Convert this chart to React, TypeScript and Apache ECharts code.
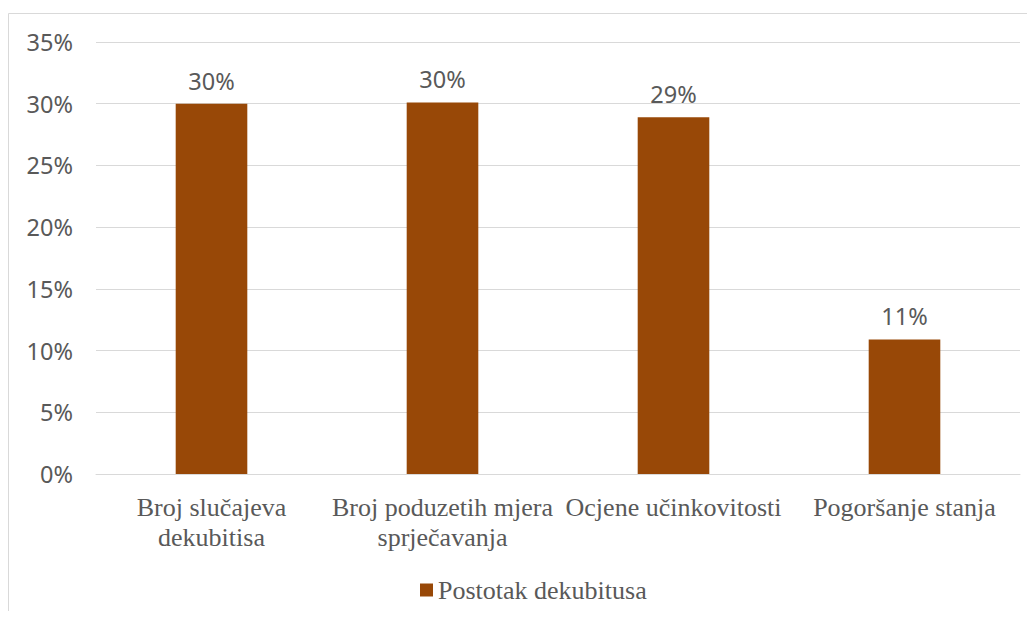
import React, { useEffect, useRef } from "react";
import * as echarts from "echarts";

const categories = [
  "Broj slučajeva\ndekubitisa",
  "Broj poduzetih mjera\nsprječavanja",
  "Ocjene učinkovitosti",
  "Pogoršanje stanja",
];
const values = [0.3, 0.301, 0.289, 0.109];
const seriesName = "Postotak dekubitusa";

const SERIF = "'Liberation Serif', 'Times New Roman', serif";

export default function App() {
  const ref = useRef<HTMLDivElement>(null);
  useEffect(() => {
    if (!ref.current) return;
    const chart = echarts.init(ref.current, null, { renderer: "svg" });
    chart.setOption({
      animation: false,
      backgroundColor: "#ffffff",
      graphic: [
        {
          type: "rect",
          shape: { x: 0.5, y: 5.5, width: 1200, height: 800 },
          style: { fill: "none", stroke: "#d9d9d9", lineWidth: 1 },
          silent: true,
        },
      ],
      grid: { left: 88, right: 7, top: 34, bottom: 137, containLabel: false },
      legend: {
        top: 564,
        left: 407,
        itemWidth: 13,
        itemHeight: 13,
        icon: "rect",
        itemGap: 5,
        textStyle: { fontFamily: SERIF, fontSize: 26, color: "#595959" },
        data: [seriesName],
      },
      xAxis: {
        type: "category",
        data: categories,
        axisLine: { show: true, lineStyle: { color: "#d9d9d9", width: 1 } },
        axisTick: { show: false },
        axisLabel: {
          interval: 0,
          margin: 18,
          fontFamily: SERIF,
          fontSize: 26,
          lineHeight: 30,
          color: "#595959",
        },
      },
      yAxis: {
        type: "value",
        min: 0,
        max: 0.35,
        interval: 0.05,
        axisLine: { show: false },
        axisTick: { show: false },
        splitLine: { lineStyle: { color: "#d9d9d9", width: 1 } },
        axisLabel: {
          margin: 23,
          fontFamily: "Noto Sans",
          fontSize: 23.5,
          color: "#595959",
          formatter: (v: number) => Math.round(v * 100) + "%",
        },
      },
      series: [
        {
          name: seriesName,
          type: "bar",
          data: values,
          barWidth: "31%",
          itemStyle: { color: "#984807" },
          label: {
            show: true,
            position: "top",
            distance: 11,
            fontFamily: "Noto Sans",
            fontSize: 23.5,
            color: "#595959",
            formatter: (p: any) => Math.round(p.value * 100) + "%",
          },
        },
      ],
    });
    return () => chart.dispose();
  }, []);
  return <div ref={ref} style={{ width: 1019, height: 603 }} />;
}
